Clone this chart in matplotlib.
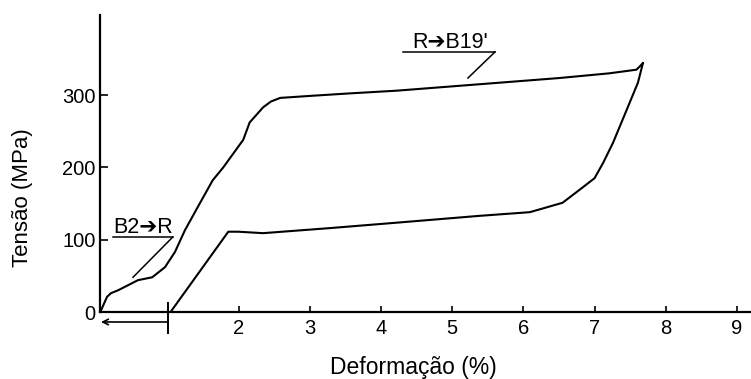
import matplotlib
matplotlib.use('Agg')
import matplotlib.pyplot as plt

plt.rcParams['font.family'] = ['Liberation Sans', 'DejaVu Sans']

# curva de carga (deformação %, tensão MPa)
carga_x = [0.05, 0.075, 0.145, 0.20, 0.30, 0.58, 0.78, 0.96, 1.10, 1.24, 1.42, 1.63, 1.78,
           2.06, 2.15, 2.34, 2.45, 2.58, 3.04, 3.52, 4.22, 5.53, 6.51, 7.21, 7.59, 7.68]
carga_y = [0, 5.5, 21, 26, 30, 44, 48, 62, 83, 113, 145, 182, 200,
           238, 262, 283, 291, 296, 299, 302, 306, 316, 323.5, 330, 335, 344]

# curva de descarga
descarga_x = [7.68, 7.61, 7.45, 7.26, 7.12, 7.00, 6.79, 6.55, 6.09, 5.39, 4.22,
              3.28, 2.34, 1.99, 1.85, 1.06, 1.04]
descarga_y = [344, 317, 279, 234, 206, 185, 169, 151, 138, 133, 123.5,
              116, 109, 111, 111, 3, 0]

xticks = [2, 3, 4, 5, 6, 7, 8, 9]
yticks = [0, 100, 200, 300]

fig = plt.figure(figsize=(7.51, 3.79), dpi=100)
ax = fig.add_axes([100 / 751, 1 - 312 / 379, 651 / 751, 297 / 379])

ax.plot(carga_x, carga_y, color='black', lw=1.5)
ax.plot(descarga_x, descarga_y, color='black', lw=1.5)

ax.set_xlim(0.046, 9.2)
ax.set_ylim(0, 410.6)

for s in ['top', 'right']:
    ax.spines[s].set_visible(False)
for s in ['left', 'bottom']:
    ax.spines[s].set_linewidth(1.6)

ax.set_xticks(xticks)
ax.set_yticks(yticks)
ax.tick_params(axis='x', direction='in', length=4.5, width=1.2, pad=5, labelsize=14.5)
ax.tick_params(axis='y', direction='in', length=6, width=1.2, pad=3, labelsize=14.5)

# anotações das transformações
ax.plot([0.23, 1.07], [103.7, 103.7], color='black', lw=1.1)
ax.plot([1.07, 0.51], [103.7, 48], color='black', lw=1.1)
ax.text(0.23, 109, 'B2\u2794R', fontsize=15.5, va='baseline', ha='left')

ax.plot([4.31, 5.60], [359.5, 359.5], color='black', lw=1.1)
ax.plot([5.60, 5.22], [359.5, 323.5], color='black', lw=1.1)
ax.text(4.43, 365, "R\u2794B19'", fontsize=15.5, va='baseline', ha='left')

# seta sob o eixo
ax.plot([1.0, 1.0], [12.4, -29], color='black', lw=1.4, clip_on=False)
ax.annotate('', xy=(0.06, -13.8), xytext=(1.0, -13.8),
            arrowprops=dict(arrowstyle='->', color='black', lw=1.2,
                            shrinkA=0, shrinkB=0),
            annotation_clip=False)

ax.set_xlabel('Deformação (%)', fontsize=16.5)
ax.xaxis.set_label_coords((413 - 100) / 651, (312 - 356) / 297)
ax.xaxis.label.set_va('top')
ax.set_ylabel('Tensão (MPa)', fontsize=16, va='center')
ax.yaxis.set_label_coords((22 - 100) / 651, (312 - 198) / 297)

fig.savefig('out.png', dpi=100)
